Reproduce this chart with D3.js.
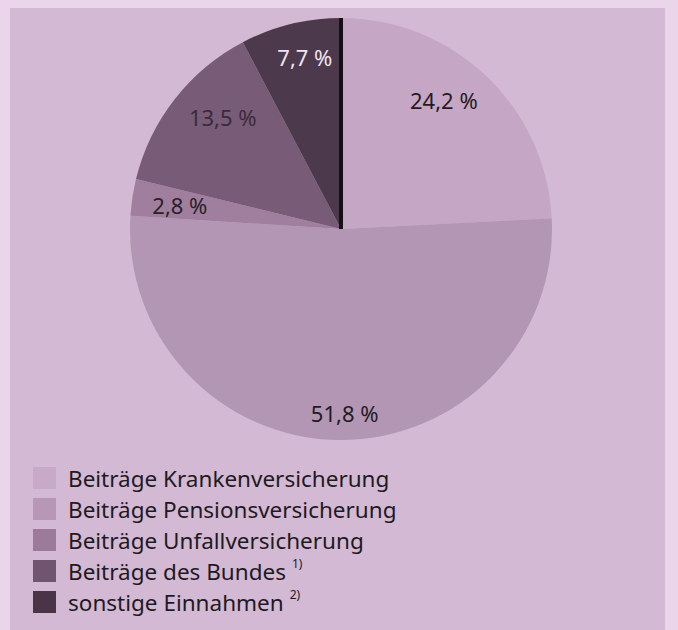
<!DOCTYPE html>
<html><head><meta charset="utf-8">
<script src="https://cdn.jsdelivr.net/npm/d3@7/dist/d3.min.js"></script>
<style>html,body{margin:0;padding:0;background:#ebd5eb;}svg{display:block;}</style>
</head><body>
<svg id="chart" width="678" height="630"></svg>
<script>
const categories = ["Beiträge Krankenversicherung","Beiträge Pensionsversicherung","Beiträge Unfallversicherung","Beiträge des Bundes","sonstige Einnahmen"];
const footnotes = ["","","","1)","2)"];
const values = [24.2, 51.8, 2.8, 13.5, 7.7];
const valueLabels = ["24,2 %","51,8 %","2,8 %","13,5 %","7,7 %"];
const colors = ["#c5a7c5","#b396b3","#9f7f9d","#785c77","#4d394c"];
const legendColors = ["#c8a9c8","#b897b6","#9b7b99","#705470","#4a3448"];
const labelColors = ["#231b23","#231b23","#2b202b","#3a2b3a","#f1e3f1"];

const svg = d3.select("#chart");
svg.append("rect").attr("x",0).attr("y",0).attr("width",678).attr("height",630).attr("fill","#ebd5eb");
svg.append("rect").attr("x",10).attr("y",8).attr("width",655).attr("height",640).attr("fill","#d3b9d3");

const cx = 341, cy = 229, R = 211;
const g = svg.append("g").attr("transform",`translate(${cx},${cy})`);
const pie = d3.pie().sort(null).value(d=>d);
const arcs = pie(values);
const arc = d3.arc().innerRadius(0).outerRadius(R);
g.selectAll("path.slice").data(arcs).join("path").attr("class","slice")
  .attr("d",arc).attr("fill",(d,i)=>colors[i]);

// black separator at 0°
g.append("line").attr("x1",0).attr("y1",0).attr("x2",0).attr("y2",-R)
  .attr("stroke","#141014").attr("stroke-width",4);

const labelR = [165,184,163,163,176];
const labelShift = [-5,-1.5,0,5.5,2]; // degrees
g.selectAll("text.lbl").data(arcs).join("text").attr("class","lbl")
  .attr("x",(d,i)=>{const a=(d.startAngle+d.endAngle)/2+labelShift[i]*Math.PI/180;return Math.sin(a)*labelR[i];})
  .attr("y",(d,i)=>{const a=(d.startAngle+d.endAngle)/2+labelShift[i]*Math.PI/180;return -Math.cos(a)*labelR[i];})
  .attr("text-anchor","middle").attr("dominant-baseline","central")
  .attr("font-family","'Noto Sans', sans-serif").attr("font-size",22)
  .attr("fill",(d,i)=>labelColors[i])
  .text((d,i)=>valueLabels[i]);

const leg = svg.append("g").attr("transform","translate(33,467)");
const rowH = 31;
const rows = leg.selectAll("g").data(categories).join("g")
  .attr("transform",(d,i)=>`translate(0,${i*rowH})`);
rows.append("rect").attr("x",0).attr("y",0).attr("width",23).attr("height",22)
  .attr("fill",(d,i)=>legendColors[i]);
const t = rows.append("text").attr("x",35).attr("y",11).attr("dominant-baseline","central")
  .attr("font-family","'Noto Sans', sans-serif").attr("font-size",22.5).attr("fill","#1f1a1f");
t.append("tspan").text(d=>d);
t.append("tspan").attr("dx",6).attr("dy",-8).attr("font-size",12).text((d,i)=>footnotes[i]);
</script>
</body></html>
